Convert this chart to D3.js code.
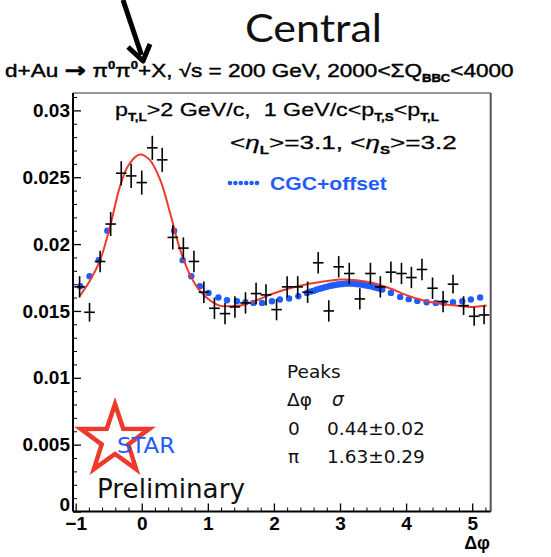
<!DOCTYPE html>
<html>
<head>
<meta charset="utf-8">
<script src="https://cdn.jsdelivr.net/npm/d3@7"></script>
<style>
body { margin: 0; background: #fff; }
svg { display: block; font-family: "Liberation Sans", Arial, sans-serif; }
</style>
</head>
<body>
<svg id="chart" width="551" height="557"></svg>
<script>
// ---------- DATA ----------
// pi0-pi0 azimuthal correlation, STAR d+Au central
const dataPhi = [-0.94, -0.79, -0.63, -0.47, -0.31, -0.16, 0.0, 0.16, 0.31, 0.47,
	0.63, 0.79, 0.94, 1.10, 1.26, 1.41, 1.57, 1.73, 1.88, 2.04,
	2.20, 2.36, 2.51, 2.67, 2.83, 2.98, 3.14, 3.30, 3.46, 3.61,
	3.77, 3.93, 4.08, 4.24, 4.40, 4.56, 4.71, 4.87, 5.03, 5.18];
const dataVal = [0.0168, 0.0149, 0.0187, 0.0215, 0.0253, 0.0251, 0.0246, 0.0272, 0.0263, 0.0205,
	0.0197, 0.0187, 0.0164, 0.0152, 0.0148, 0.0153, 0.0156, 0.0163, 0.0162, 0.0151,
	0.0168, 0.0168, 0.0164, 0.0186, 0.0150, 0.0183, 0.0178, 0.0159, 0.0178, 0.0168,
	0.0179, 0.0178, 0.0175, 0.0181, 0.0167, 0.0157, 0.0170, 0.0154, 0.0146, 0.0147];
const dataErr = [0.0008, 0.0007, 0.0008, 0.0009, 0.0009, 0.0009, 0.0009, 0.0009, 0.0009, 0.0009,
	0.0008, 0.0008, 0.0008, 0.0008, 0.0008, 0.0008, 0.0008, 0.0008, 0.0008, 0.0008,
	0.0008, 0.0008, 0.0008, 0.0008, 0.0008, 0.0008, 0.0008, 0.0008, 0.0008, 0.0008,
	0.0008, 0.0008, 0.0008, 0.0008, 0.0008, 0.0008, 0.0007, 0.0007, 0.0007, 0.0007];
const binHalfWidth = 0.08;

// double gaussian fit (red line)
const fitPhi = [-0.94, -0.78, -0.63, -0.48, -0.33, -0.2, -0.03, 0.12, 0.28, 0.43,
	0.58, 0.73, 0.88, 1.03, 1.18, 1.34, 1.49, 1.74, 1.99, 2.24,
	2.5, 2.75, 3.0, 3.25, 3.5, 3.75, 4.0, 4.25, 4.5, 4.75, 5.0, 5.22];
const fitVal = [0.0161, 0.0173, 0.0188, 0.0213, 0.0243, 0.0259, 0.0267, 0.0263, 0.0248, 0.0223,
	0.0196, 0.0177, 0.0165, 0.0158, 0.0154, 0.01535, 0.0154, 0.0158, 0.0163, 0.0167,
	0.0170, 0.0172, 0.01735, 0.0173, 0.0171, 0.0167, 0.0162, 0.0158, 0.01555, 0.0154, 0.0153, 0.0154];

// CGC+offset (blue dots)
const cgcPhi = [-0.93, -0.79, -0.65, -0.52,
	0.49, 0.62, 0.75, 0.88, 1.01, 1.16, 1.29, 1.44, 1.57, 1.69, 1.82, 1.97, 2.09, 2.23, 2.37, 2.50,
	2.56, 2.60, 2.64, 2.68, 2.72, 2.76, 2.80, 2.84, 2.88, 2.92, 2.96, 3.00, 3.04, 3.08,
	3.12, 3.16, 3.20, 3.24, 3.28, 3.32, 3.36, 3.40, 3.44, 3.48, 3.52, 3.56, 3.60, 3.64,
	3.77, 3.91, 4.04, 4.17, 4.31, 4.45, 4.57, 4.71, 4.85, 4.98, 5.12];
const cgcVal = [0.01685, 0.0176, 0.0188, 0.0210,
	0.0210, 0.0188, 0.0176, 0.01685, 0.01635, 0.0160, 0.0158, 0.01573, 0.01565, 0.0156, 0.0156, 0.01573, 0.01586, 0.01593, 0.0161, 0.01635,
	0.01645, 0.0165, 0.01658, 0.01665, 0.0167, 0.01676, 0.0168, 0.01686, 0.0169, 0.01694, 0.01698, 0.0170, 0.01702, 0.01704,
	0.01705, 0.01705, 0.01704, 0.01702, 0.0170, 0.01697, 0.01694, 0.0169, 0.01686, 0.01682, 0.01677, 0.01672, 0.01666, 0.0166,
	0.01635, 0.01605, 0.01588, 0.01575, 0.01565, 0.0156, 0.0156, 0.01565, 0.01573, 0.01586, 0.0160];

const yTicks = [0, 0.005, 0.01, 0.015, 0.02, 0.025, 0.03];
const xTicks = [-1, 0, 1, 2, 3, 4, 5];
const peakRows = [["0", "0.44\u00b10.02"], ["\u03c0", "1.63\u00b10.29"]];

// ---------- CHART ----------
const svg = d3.select("#chart");
const blue = "#1f5cff";
const red = "#ee3a2a";

const x = d3.scaleLinear().domain([-1.04, 5.28]).range([73, 490.7]);
const y = d3.scaleLinear().domain([0, 0.0313]).range([511.5, 93]);

// squeeze/stretch a text horizontally to the width seen in the figure
function fitX(sel, x0, w) {
	const bw = sel.node().getBBox().width;
	const s = w / bw;
	sel.attr("transform", `translate(${x0},0) scale(${s},1) translate(${-x0},0)`);
	return sel;
}

function richText(x0, y0, parts, size) {
	const t = svg.append("text")
		.attr("x", x0)
		.attr("y", y0)
		.style("font-size", size + "px")
		.style("white-space", "pre");
	let shift = 0;
	parts.forEach(([s, m]) => {
		const sp = t.append("tspan").text(s);
		const target = m === "sub" ? size * 0.28 : m === "sup" ? -size * 0.42 : 0;
		sp.attr("dy", target - shift);
		shift = target;
		if (m === "sub" || m === "sup") sp.style("font-size", size * 0.58 + "px").style("font-weight", "bold");
		if (m === "it") sp.style("font-style", "italic");
		if (m === "arrow") sp.style("font-family", "'DejaVu Sans', sans-serif").style("font-size", size * 1.15 + "px").style("font-weight", "bold");
	});
	return t;
}

// frame
svg.append("line").attr("x1", 73).attr("x2", 490.7).attr("y1", 93).attr("y2", 93)
	.attr("stroke", "#333").attr("stroke-width", 1.2);
svg.append("line").attr("x1", 490.7).attr("x2", 490.7).attr("y1", 93).attr("y2", 511.5)
	.attr("stroke", "#555").attr("stroke-width", 2);

// y axis
const yMinor = d3.range(0, 0.0311, 0.001).filter((v) => Math.abs(v / 0.005 - Math.round(v / 0.005)) > 1e-6);
svg.append("g")
	.attr("transform", "translate(73,0)")
	.call(d3.axisLeft(y).tickValues(yMinor).tickSize(-4).tickSizeOuter(0).tickFormat(""))
	.call((g) => g.select(".domain").remove());
const gy = svg.append("g")
	.attr("transform", "translate(73,0)")
	.call(d3.axisLeft(y).tickValues(yTicks).tickSize(-8).tickSizeOuter(0).tickPadding(3)
		.tickFormat((d) => (d === 0 ? "0" : String(+d.toFixed(3)))));
gy.select(".domain").attr("d", `M0,${y(0)}V93`).attr("stroke", "#000").attr("stroke-width", 2);
gy.selectAll(".tick line").attr("stroke-width", 1.3);
gy.selectAll(".tick text").style("font-size", "19px").style("font-weight", "bold").attr("fill", "#000");
gy.selectAll(".tick text").filter((d) => d === 0).attr("dy", "-0.05em");

// x axis
const xMinor = d3.range(-1, 5.21, 0.2).filter((v) => Math.abs(v - Math.round(v)) > 1e-6);
svg.append("g")
	.attr("transform", `translate(0,${y(0)})`)
	.call(d3.axisBottom(x).tickValues(xMinor).tickSize(-4).tickSizeOuter(0).tickFormat(""))
	.call((g) => g.select(".domain").remove());
const gx = svg.append("g")
	.attr("transform", `translate(0,${y(0)})`)
	.call(d3.axisBottom(x).tickValues(xTicks).tickSize(-8).tickSizeOuter(0).tickPadding(5)
		.tickFormat(d3.format("d")));
gx.select(".domain").attr("d", "M73,0H490.7").attr("stroke", "#000").attr("stroke-width", 2);
gx.selectAll(".tick line").attr("stroke-width", 1.3);
gx.selectAll(".tick text").style("font-size", "19px").style("font-weight", "bold").attr("fill", "#000");

svg.append("text")
	.attr("x", 490)
	.attr("y", 549)
	.attr("text-anchor", "end")
	.style("font-size", "18px")
	.style("font-weight", "bold")
	.text("\u0394\u03c6");

// CGC dots
svg.append("g")
	.attr("fill", blue)
	.selectAll("circle")
	.data(cgcPhi.map((p, i) => [p, cgcVal[i]]))
	.join("circle")
	.attr("cx", (d) => x(d[0]))
	.attr("cy", (d) => y(d[1]))
	.attr("r", 3.2);

// fit line
svg.append("path")
	.datum(fitPhi.map((p, i) => [p, fitVal[i]]))
	.attr("fill", "none")
	.attr("stroke", red)
	.attr("stroke-width", 2)
	.attr("d", d3.line().x((d) => x(d[0])).y((d) => y(d[1])).curve(d3.curveCatmullRom.alpha(0.5)));

// data crosses
const pts = svg.append("g")
	.attr("stroke", "#000")
	.attr("stroke-width", 1.6)
	.selectAll("g")
	.data(dataPhi.map((p, i) => ({ p: p, v: dataVal[i], e: dataErr[i] })))
	.join("g");
pts.append("line")
	.attr("x1", (d) => x(d.p - binHalfWidth))
	.attr("x2", (d) => x(d.p + binHalfWidth))
	.attr("y1", (d) => y(d.v))
	.attr("y2", (d) => y(d.v));
pts.append("line")
	.attr("x1", (d) => x(d.p))
	.attr("x2", (d) => x(d.p))
	.attr("y1", (d) => y(d.v - d.e))
	.attr("y2", (d) => y(d.v + d.e));

// text inside the frame
fitX(richText(115, 116, [["p"], ["T,L", "sub"], [">2 GeV/c,  1 GeV/c<p"], ["T,S", "sub"], ["<p"], ["T,L", "sub"]], 18), 115, 325)
	.attr("stroke", "#000").attr("stroke-width", 0.25);
fitX(richText(230, 149, [["<"], ["\u03b7", "it"], ["L", "sub"], [">=3.1, <"], ["\u03b7", "it"], ["S", "sub"], [">=3.2"]], 18), 230, 227)
	.attr("stroke", "#000").attr("stroke-width", 0.25);

// legend
const leg = svg.append("g").attr("fill", blue);
leg.selectAll("circle")
	.data(d3.range(6))
	.join("circle")
	.attr("cx", (d) => 230 + d * 5.4)
	.attr("cy", 183)
	.attr("r", 2.3);
fitX(svg.append("text")
	.attr("x", 270)
	.attr("y", 190)
	.attr("fill", blue)
	.style("font-size", "18px")
	.style("font-weight", "bold")
	.text("CGC+offset"), 270, 117);

// peaks table
const tbl = svg.append("g").style("font-family", "'DejaVu Sans', sans-serif").style("font-size", "18.5px").attr("fill", "#111");
tbl.append("text").attr("x", 287).attr("y", 378).text("Peaks");
tbl.append("text").attr("x", 287).attr("y", 406).text("\u0394\u03c6");
tbl.append("text").attr("x", 332).attr("y", 406).style("font-style", "italic").text("\u03c3");
peakRows.forEach((r, i) => {
	tbl.append("text").attr("x", 288).attr("y", 435 + i * 28).text(r[0]);
	tbl.append("text").attr("x", 327).attr("y", 435 + i * 28).text(r[1]);
});

// STAR logo
const cx = 115, cy = 440, R = 36, r0 = 14;
const starPts = d3.range(10).map((i) => {
	const a = -Math.PI / 2 + (i * Math.PI) / 5;
	const rr = i % 2 === 0 ? R : r0;
	return [cx + rr * Math.cos(a), cy + rr * Math.sin(a)];
});
svg.append("polygon")
	.attr("points", starPts.map((p) => p.join(",")).join(" "))
	.attr("fill", "#fff")
	.attr("stroke", red)
	.attr("stroke-width", 4.5)
	.attr("stroke-linejoin", "miter");
fitX(svg.append("text")
	.attr("x", 117)
	.attr("y", 453)
	.attr("fill", blue)
	.style("font-family", "'DejaVu Sans', sans-serif")
	.style("font-size", "22px")
	.text("STAR"), 117, 58);
fitX(svg.append("text")
	.attr("x", 97)
	.attr("y", 498)
	.attr("fill", "#111")
	.style("font-family", "'DejaVu Sans', sans-serif")
	.style("font-size", "26px")
	.text("Preliminary"), 97, 148);

// title line above the frame
fitX(richText(5, 77, [["d+Au "], ["\u2192", "arrow"], [" \u03c0"], ["0", "sup"], ["\u03c0"], ["0", "sup"], ["+X, \u221as = 200 GeV, 2000<\u03a3Q"], ["BBC", "sub"], ["<4000"]], 18), 5, 509)
	.attr("stroke", "#000").attr("stroke-width", 0.4);

// slide annotation
fitX(svg.append("text")
	.attr("x", 245)
	.attr("y", 42)
	.attr("fill", "#111")
	.style("font-family", "Lato, 'Open Sans', sans-serif")
	.style("font-size", "39px")
	.text("Central"), 245, 137);

svg.append("path")
	.attr("d", "M123,0L141.5,55")
	.attr("stroke", "#000")
	.attr("stroke-width", 5)
	.attr("fill", "none");
svg.append("path")
	.attr("d", "M128,47L143,61L150,44")
	.attr("stroke", "#000")
	.attr("stroke-width", 5)
	.attr("stroke-linejoin", "round")
	.attr("fill", "none");
</script>
</body>
</html>
